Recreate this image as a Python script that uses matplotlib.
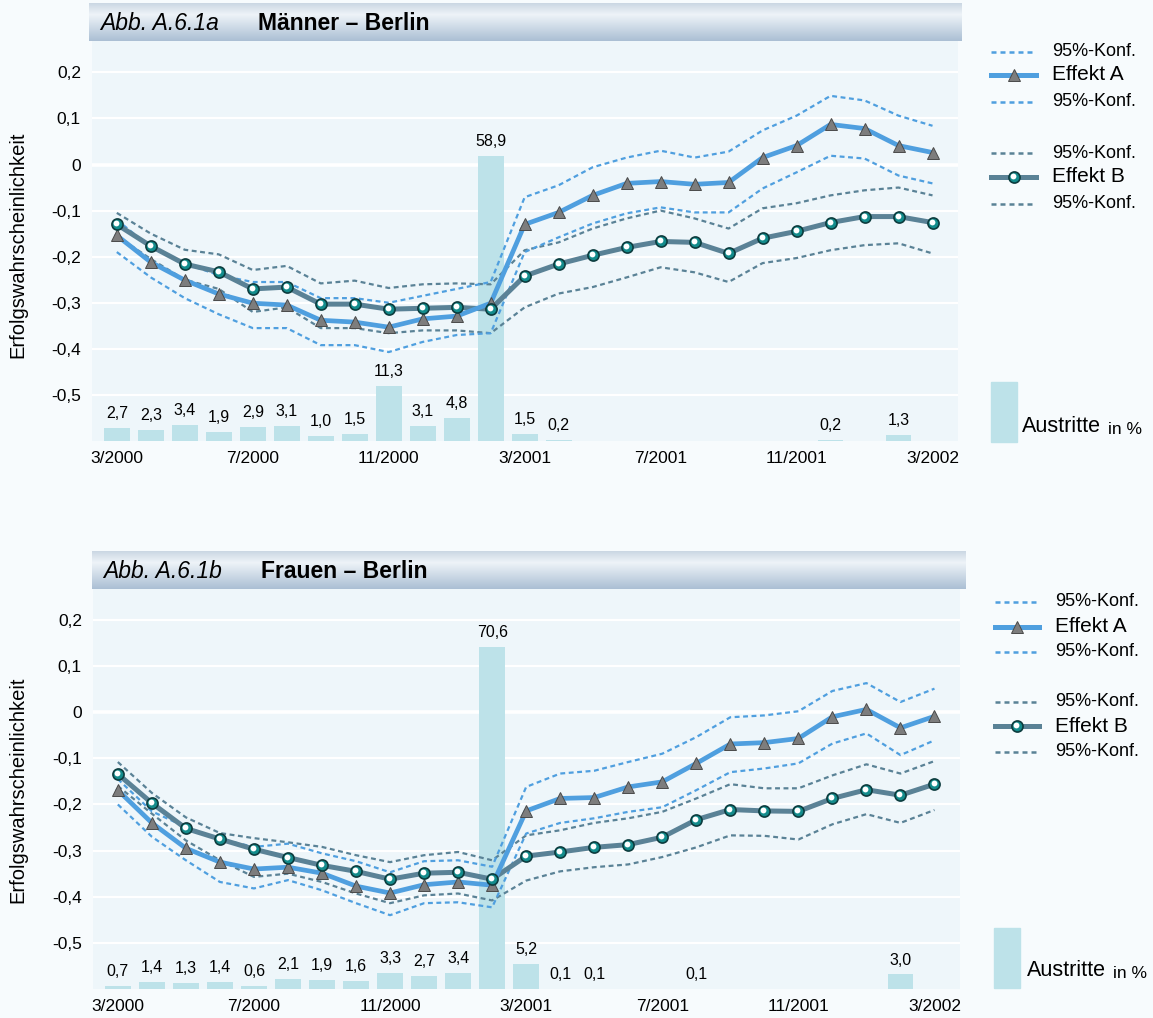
import numpy as np
import matplotlib.pyplot as plt
import matplotlib.transforms as mtransforms
from matplotlib.colors import LinearSegmentedColormap
from matplotlib.lines import Line2D
from matplotlib.patches import Rectangle

plt.rcParams['font.family'] = ['Liberation Sans', 'DejaVu Sans']

W, H = 1153, 1018

# months 3/2000 .. 3/2002
n_months = 25
tick_pos = [0, 4, 8, 12, 16, 20, 24]
tick_labels = ['3/2000', '7/2000', '11/2000', '3/2001', '7/2001', '11/2001', '3/2002']
y_ticks = [0.2, 0.1, 0.0, -0.1, -0.2, -0.3, -0.4, -0.5]
y_ticklabels = ['0,2', '0,1', '0', '-0,1', '-0,2', '-0,3', '-0,4', '-0,5']

# Männer - Berlin
m_a = [-0.154, -0.212, -0.251, -0.281, -0.301, -0.305, -0.338, -0.342, -0.353, -0.335, -0.329, -0.301,
       -0.130, -0.104, -0.067, -0.041, -0.037, -0.043, -0.039, 0.015, 0.041, 0.087, 0.078, 0.041, 0.026]
m_a_up = [-0.120, -0.180, -0.215, -0.240, -0.255, -0.255, -0.290, -0.290, -0.300, -0.285, -0.270, -0.255,
          -0.071, -0.045, -0.006, 0.015, 0.030, 0.015, 0.028, 0.074, 0.106, 0.149, 0.139, 0.106, 0.084]
m_a_lo = [-0.190, -0.245, -0.290, -0.325, -0.355, -0.355, -0.392, -0.392, -0.407, -0.385, -0.370, -0.366,
          -0.190, -0.158, -0.128, -0.106, -0.093, -0.104, -0.104, -0.052, -0.017, 0.019, 0.013, -0.024, -0.041]
m_b = [-0.130, -0.177, -0.216, -0.233, -0.270, -0.266, -0.303, -0.303, -0.314, -0.312, -0.310, -0.314,
       -0.242, -0.216, -0.197, -0.180, -0.167, -0.169, -0.193, -0.160, -0.145, -0.126, -0.113, -0.113, -0.126]
m_b_up = [-0.105, -0.150, -0.185, -0.195, -0.229, -0.220, -0.258, -0.252, -0.268, -0.260, -0.258, -0.260,
          -0.186, -0.169, -0.139, -0.117, -0.100, -0.117, -0.139, -0.095, -0.084, -0.067, -0.056, -0.050, -0.067]
m_b_lo = [-0.155, -0.205, -0.250, -0.270, -0.320, -0.310, -0.355, -0.355, -0.366, -0.360, -0.360, -0.366,
          -0.310, -0.280, -0.266, -0.245, -0.223, -0.234, -0.255, -0.214, -0.203, -0.186, -0.175, -0.171, -0.193]
m_exit = [2.7, 2.3, 3.4, 1.9, 2.9, 3.1, 1.0, 1.5, 11.3, 3.1, 4.8, 58.9, 1.5, 0.2,
          0, 0, 0, 0, 0, 0, 0, 0.2, 0, 1.3, 0.05]

# Frauen - Berlin
f_a = [-0.169, -0.240, -0.295, -0.325, -0.340, -0.336, -0.349, -0.377, -0.392, -0.374, -0.368, -0.375,
       -0.214, -0.187, -0.185, -0.162, -0.151, -0.111, -0.069, -0.066, -0.057, -0.010, 0.006, -0.034, -0.009]
f_a_up = [-0.145, -0.215, -0.249, -0.275, -0.292, -0.285, -0.306, -0.323, -0.347, -0.323, -0.321, -0.335,
          -0.162, -0.133, -0.127, -0.108, -0.090, -0.054, -0.011, -0.007, 0.002, 0.046, 0.063, 0.022, 0.051]
f_a_lo = [-0.200, -0.270, -0.321, -0.368, -0.382, -0.364, -0.386, -0.414, -0.440, -0.414, -0.412, -0.423,
          -0.263, -0.240, -0.230, -0.216, -0.206, -0.169, -0.130, -0.122, -0.111, -0.068, -0.046, -0.093, -0.061]
f_b = [-0.134, -0.197, -0.252, -0.275, -0.297, -0.315, -0.332, -0.345, -0.362, -0.349, -0.347, -0.362,
       -0.312, -0.303, -0.293, -0.287, -0.271, -0.233, -0.211, -0.214, -0.215, -0.187, -0.168, -0.180, -0.156]
f_b_up = [-0.108, -0.175, -0.228, -0.262, -0.273, -0.282, -0.292, -0.310, -0.325, -0.310, -0.303, -0.321,
          -0.267, -0.256, -0.240, -0.230, -0.216, -0.187, -0.156, -0.165, -0.165, -0.137, -0.113, -0.133, -0.106]
f_b_lo = [-0.160, -0.220, -0.278, -0.321, -0.357, -0.350, -0.368, -0.393, -0.414, -0.397, -0.393, -0.408,
          -0.365, -0.345, -0.336, -0.330, -0.314, -0.293, -0.267, -0.268, -0.276, -0.243, -0.221, -0.240, -0.212]
f_exit = [0.7, 1.4, 1.3, 1.4, 0.6, 2.1, 1.9, 1.6, 3.3, 2.7, 3.4, 70.6, 5.2, 0.1,
          0.1, 0, 0, 0.1, 0, 0, 0, 0, 0, 3.0, 0.05]

COL_A = '#4f9fdf'
COL_B = '#5a8296'
COL_BAR = '#bde2e9'
BG_FIG = '#f7fbfd'
BG_AX = '#eef6fa'
BAR_UNIT = 0.0105   # y-units per % Austritte
BASE = -0.6

fig = plt.figure(figsize=(W / 100, H / 100), dpi=100)
fig.patch.set_facecolor(BG_FIG)

hdr_cmap = LinearSegmentedColormap.from_list('hdr', [(0, '#cbd7e3'), (0.3, '#eef3f8'), (1, '#abbfd4')])


def px(x, y):
    return x / W, 1 - y / H


def header(x0, x1, y0, y1, abb, title):
    hax = fig.add_axes([x0 / W, 1 - y1 / H, (x1 - x0) / W, (y1 - y0) / H])
    hax.imshow(np.linspace(0, 1, 100).reshape(-1, 1), aspect='auto', cmap=hdr_cmap,
               extent=[0, 1, 0, 1])
    hax.axis('off')
    ym = (y0 + y1) / 2 + 1
    fig.text(*px(x0 + 11, ym), abb, fontsize=16.5, style='italic', va='center')
    fig.text(*px(x0 + 169, ym), title, fontsize=16.5, weight='bold', va='center')


def panel(rect, top, a, a_up, a_lo, b, b_up, b_lo, exits):
    x0, y0, x1, y1 = rect
    ax = fig.add_axes([x0 / W, 1 - y1 / H, (x1 - x0) / W, (y1 - y0) / H])
    ax.set_facecolor(BG_AX)
    for s in ax.spines.values():
        s.set_visible(False)
    x = np.arange(n_months)
    for t in y_ticks:
        ax.axhline(t, color='white', lw=2.6 if t == 0 else 1.6, zorder=0.5)

    ex = np.array(exits)
    ax.bar(x, ex * BAR_UNIT, bottom=BASE, width=0.76, color=COL_BAR, zorder=1)
    for xi, v in zip(x, ex):
        if v >= 0.1:
            ax.annotate(f'{v:.1f}'.replace('.', ','), (xi, BASE + v * BAR_UNIT),
                        xytext=(0, 5), textcoords='offset points', ha='center',
                        va='bottom', fontsize=11.5)

    dash = dict(lw=1.6, dashes=(2.2, 1.6), zorder=2)
    ax.plot(x, b_up, color=COL_B, **dash)
    ax.plot(x, b_lo, color=COL_B, **dash)
    ax.plot(x, a_up, color=COL_A, **dash)
    ax.plot(x, a_lo, color=COL_A, **dash)

    ax.plot(x, b, color=COL_B, lw=3.6, zorder=3, solid_capstyle='round')
    ax.plot(x, a, color=COL_A, lw=3.4, zorder=3, solid_capstyle='round')
    ax.plot(x, a, ls='none', marker='^', ms=8, mfc='#7d7d7d', mec='#4a4a4a', mew=0.7, zorder=4)
    ax.plot(x, b, ls='none', marker='o', ms=8, mfc='#138c8c', mec='#0c3c3e', mew=1.2, zorder=4)
    hl = ax.transData + mtransforms.ScaledTranslation(-0.7 / 72, 0.7 / 72, fig.dpi_scale_trans)
    ax.plot(x, b, ls='none', marker='o', ms=4.2, mfc='white', mec='none', zorder=5, transform=hl)

    ax.set_xlim(-0.73, 24.75)
    ax.set_ylim(BASE, top)
    ax.set_xticks(tick_pos)
    ax.set_xticklabels(tick_labels, fontsize=12.5)
    ax.set_yticks(y_ticks)
    ax.set_yticklabels(y_ticklabels, fontsize=12.5)
    ax.tick_params(length=0, pad=7)
    ax.tick_params(axis='y', pad=8)
    return ax


def legend(xs0, xs1, xt, rows):
    styles = [('c', COL_A), ('A', COL_A), ('c', COL_A), ('c', COL_B), ('B', COL_B), ('c', COL_B)]
    labels = ['95%-Konf.', 'Effekt A', '95%-Konf.', '95%-Konf.', 'Effekt B', '95%-Konf.']
    for (kind, col), lab, y in zip(styles, labels, rows):
        fy = 1 - y / H
        if kind == 'c':
            fig.add_artist(Line2D([xs0 / W, xs1 / W], [fy, fy], color=col, lw=1.8, dashes=(2.0, 1.6)))
            fig.text(xt / W, fy, lab, fontsize=13, va='center')
        else:
            fig.add_artist(Line2D([xs0 / W, xs1 / W], [fy, fy], color=col, lw=3.6))
            xm = (xs0 + xs1) / 2 / W
            if kind == 'A':
                fig.add_artist(Line2D([xm], [fy], marker='^', ms=8, mfc='#7d7d7d', mec='#4a4a4a', mew=0.7))
            else:
                fig.add_artist(Line2D([xm], [fy], marker='o', ms=8, mfc='#138c8c', mec='#0c3c3e', mew=1.2))
                fig.add_artist(Line2D([xm - 1 / W], [fy + 1 / H], marker='o', ms=4.2, mfc='white', mec='none'))
            fig.text(xt / W, fy, lab, fontsize=15, va='center')


def exit_legend(x0, y0, x1, y1, xt, yt):
    fig.add_artist(Rectangle(px(x0, y1), (x1 - x0) / W, (y1 - y0) / H, color=COL_BAR,
                             transform=fig.transFigure))
    fig.text(*px(xt, yt), 'Austritte', fontsize=15.5, va='center')
    fig.text(*px(xt + 86, yt + 4), 'in %', fontsize=12.5, va='center')


# top panel
header(89, 962, 3, 41, 'Abb. A.6.1a', 'Männer – Berlin')
panel((92, 41, 958, 441), 0.268, m_a, m_a_up, m_a_lo, m_b, m_b_up, m_b_lo, m_exit)
fig.text(*px(18, 245), 'Erfolgswahrscheinlichkeit', rotation=90, fontsize=14.5,
         ha='center', va='center')
legend(991, 1036, 1052, [52, 75, 102, 153, 177, 204])
exit_legend(991, 382, 1017, 442, 1022, 426)

# bottom panel
header(92, 966, 551, 589, 'Abb. A.6.1b', 'Frauen – Berlin')
panel((93, 589, 960, 989), 0.267, f_a, f_a_up, f_a_lo, f_b, f_b_up, f_b_lo, f_exit)
fig.text(*px(18, 790), 'Erfolgswahrscheinlichkeit', rotation=90, fontsize=14.5,
         ha='center', va='center')
legend(995, 1039, 1055, [602, 627, 652, 702, 726, 752])
exit_legend(994, 928, 1020, 988, 1027, 970)

fig.savefig('out.png', dpi=100, facecolor=fig.get_facecolor())
